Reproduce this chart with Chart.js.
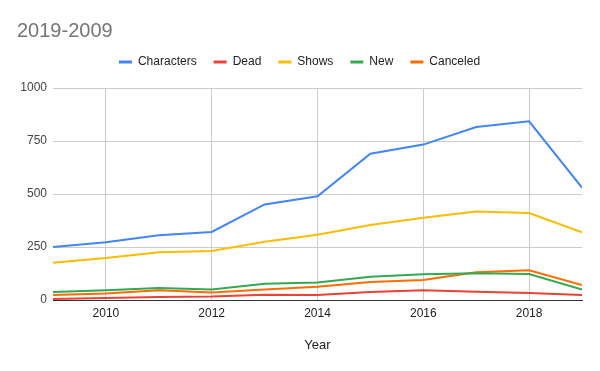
<!DOCTYPE html>
<html>
<head>
<meta charset="utf-8">
<script src="https://cdn.jsdelivr.net/npm/chart.js@4.4.0/dist/chart.umd.min.js"></script>
<style>
  html, body { margin: 0; padding: 0; background: #fff; }
  #wrap { width: 600px; height: 371px; }
</style>
</head>
<body>
<div id="wrap"><canvas id="lineChart"></canvas></div>
<script>
// values
const years = [2009, 2010, 2011, 2012, 2013, 2014, 2015, 2016, 2017, 2018, 2019];
const characters = [250, 272, 305, 321, 451, 489, 690, 733, 816, 843, 530];
const dead = [5, 9, 14, 16, 25, 24, 38, 46, 39, 33, 24];
const shows = [176, 198, 225, 231, 275, 308, 354, 388, 418, 410, 319];
const newShows = [38, 46, 57, 50, 77, 83, 110, 121, 126, 123, 49];
const canceled = [24, 31, 46, 35, 49, 63, 85, 94, 131, 140, 71];
const xTicks = [2010, 2012, 2014, 2016, 2018];
const yTicks = [0, 250, 500, 750, 1000];

const fontFam = "'Liberation Sans', Arial, sans-serif";

function pts(vals) {
  return years.map((y, i) => ({ x: y, y: vals[i] }));
}

function line(label, vals, color) {
  return {
    label: label,
    data: pts(vals),
    borderColor: color,
    backgroundColor: color,
    borderWidth: 2,
    pointRadius: 0,
    tension: 0,
  };
}

// legend is too tall by default, trim it so the plot starts where the reference does
const legendTrim = {
  id: "legendTrim",
  beforeLayout(chart) {
    const lg = chart.legend;
    if (lg && !lg._trimmed) {
      const orig = lg.fit;
      lg.fit = function () {
        orig.call(this);
        this.height = 49;
      };
      lg._trimmed = true;
    }
  },
};

var ctx = document.getElementById("lineChart").getContext("2d");
new Chart(ctx, {
  type: "line",
  data: {
    datasets: [
      line("Characters", characters, "#4285F4"),
      line("Dead", dead, "#EA4335"),
      line("Shows", shows, "#FBBC04"),
      line("New", newShows, "#34A853"),
      line("Canceled", canceled, "#FF6D01"),
    ],
  },
  options: {
    responsive: true,
    maintainAspectRatio: false,
    animation: false,
    layout: { padding: { left: 17, right: 18, top: 0, bottom: 0 } },
    plugins: {
      title: {
        display: true,
        text: "2019-2009",
        align: "start",
        color: "#757575",
        font: { family: fontFam, size: 20, weight: "normal", lineHeight: 0.8 },
        padding: { top: 23, bottom: 0 },
      },
      legend: {
        display: true,
        position: "top",
        labels: {
          color: "#222",
          font: { family: fontFam, size: 12 },
          boxWidth: 13,
          boxHeight: 3,
          padding: 17,
          generateLabels(chart) {
            const items = Chart.defaults.plugins.legend.labels.generateLabels(chart);
            items.forEach((it) => { it.lineWidth = 0; });
            return items;
          },
        },
      },
      tooltip: { enabled: false },
    },
    scales: {
      x: {
        type: "linear",
        min: 2009,
        max: 2019,
        afterBuildTicks(scale) {
          scale.ticks = xTicks.map((v) => ({ value: v }));
        },
        afterFit(scale) {
          scale.height = 71;
        },
        grid: { color: "#cccccc", drawTicks: false },
        border: { display: true, color: "#333" },
        ticks: {
          color: "#222",
          padding: 6,
          maxRotation: 0,
          font: { family: fontFam, size: 12 },
          callback: (v) => String(v),
        },
        title: {
          display: true,
          text: "Year",
          color: "#222",
          font: { family: fontFam, size: 13 },
          padding: { top: 0, bottom: 18 },
        },
      },
      y: {
        min: 0,
        max: 1000,
        afterBuildTicks(scale) {
          scale.ticks = yTicks.map((v) => ({ value: v }));
        },
        afterFit(scale) {
          scale.width = 36;
        },
        grid: {
          color: (c) => (c.tick && c.tick.value === 0 ? "#333" : "#cccccc"),
          drawTicks: false,
        },
        border: { display: false },
        ticks: {
          color: "#444",
          padding: 6,
          font: { family: fontFam, size: 12 },
          callback: (v) => String(v),
        },
      },
    },
  },
  plugins: [legendTrim],
});
</script>
</body>
</html>
